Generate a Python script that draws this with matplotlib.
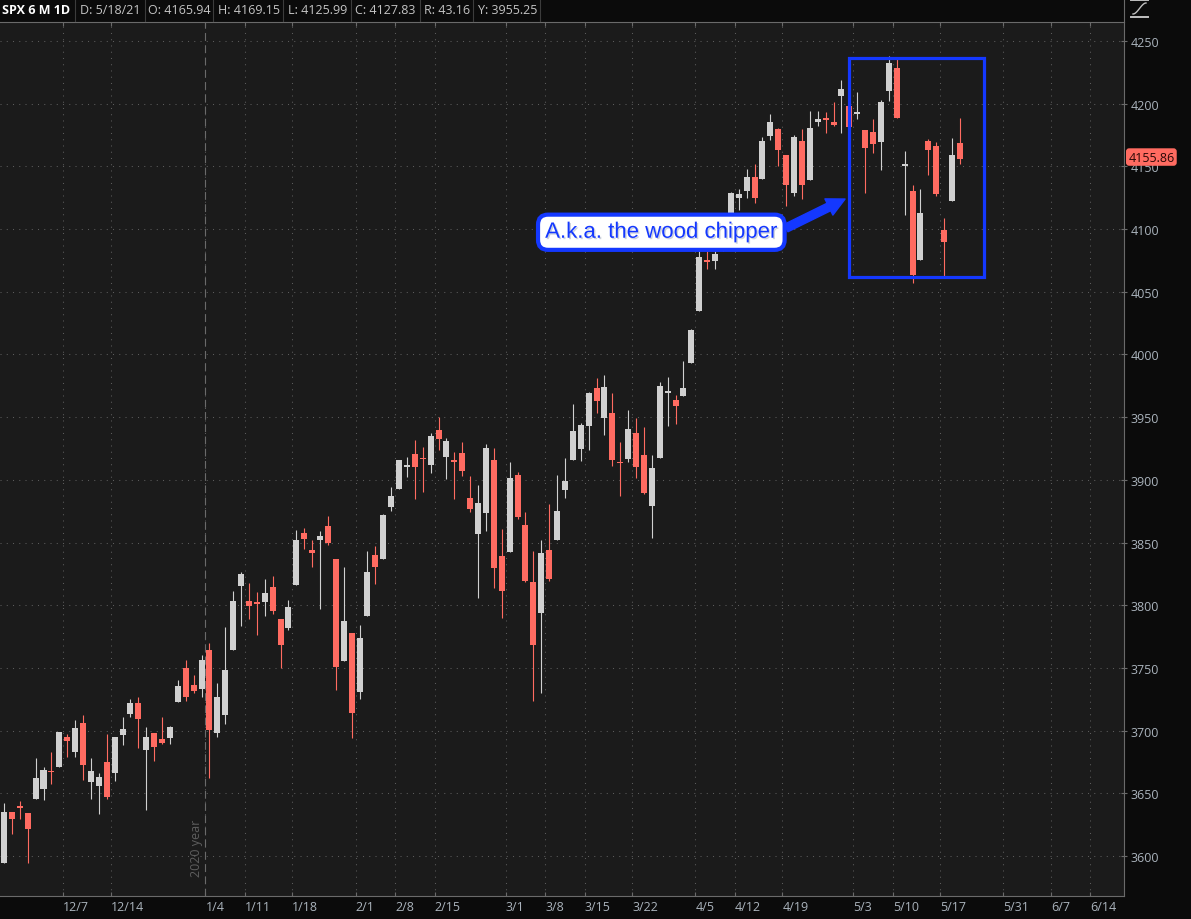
import numpy as np
import pandas as pd
import matplotlib
matplotlib.use('Agg')
import matplotlib.pyplot as plt
from matplotlib import patches, patheffects
from matplotlib.lines import Line2D
import matplotlib.transforms as mtransforms

# trading days on the chart (no bar for holidays, and the chart has no 5/14 bar)
no_bar = ['2020-11-26', '2020-12-25', '2021-01-01', '2021-01-18',
          '2021-02-15', '2021-04-02', '2021-05-14']
days = pd.bdate_range('2020-11-24', '2021-05-21')
days = days[~days.isin(pd.to_datetime(no_bar))]

opens = [3594.52, 3635.50, 3638.55, 3634.18,
         3645.87, 3653.78, 3668.28, 3670.94, 3694.73, 3683.05, 3705.98, 3659.13, 3656.08,
         3675.27, 3666.41, 3696.25, 3713.65, 3722.39, 3684.28, 3698.08, 3693.42, 3694.03,
         3723.03, 3750.01, 3736.19, 3733.27,
         3764.61, 3698.02, 3712.20, 3764.71, 3815.05, 3803.14, 3801.62, 3802.23, 3814.98, 3788.73,
         3781.88, 3816.22, 3857.46, 3844.24, 3851.68, 3862.96, 3836.83, 3755.75, 3778.05,
         3731.17, 3791.84, 3840.27, 3836.66, 3878.30, 3892.59, 3910.49, 3920.78, 3916.40, 3911.65,
         3939.61, 3918.50, 3915.86, 3921.16, 3885.55, 3857.07, 3873.71, 3915.80, 3839.66,
         3842.51, 3903.64, 3863.99, 3818.53, 3793.58, 3844.39, 3851.93, 3891.99, 3915.54, 3924.52,
         3942.96, 3973.59, 3949.57, 3953.50, 3913.14, 3916.48, 3937.60, 3919.93, 3879.34, 3917.12,
         3969.31, 3963.34, 3967.25, 3992.78,
         4034.44, 4075.57, 4074.29, 4089.95, 4096.11, 4124.71, 4130.10, 4141.58, 4139.76, 4174.14,
         4179.80, 4159.18, 4128.42, 4170.46, 4138.78, 4185.03, 4188.25, 4185.14, 4206.14, 4198.10,
         4191.98, 4179.04, 4177.06, 4169.14, 4210.34, 4228.29, 4150.34, 4130.55, 4074.99,
         4169.92, 4165.94, 4099.00, 4121.97, 4168.61]
highs = [3642.31, 3635.50, 3644.31, 3634.18,
         3678.45, 3670.96, 3682.73, 3699.20, 3697.41, 3708.45, 3712.39, 3678.49, 3665.91,
         3697.61, 3695.29, 3711.27, 3725.12, 3726.70, 3702.90, 3698.26, 3711.24, 3703.82,
         3740.51, 3756.12, 3744.63, 3760.20,
         3769.99, 3737.83, 3783.04, 3811.55, 3826.69, 3817.86, 3810.78, 3820.96, 3823.60, 3788.73,
         3804.53, 3859.75, 3861.45, 3852.31, 3859.23, 3870.90, 3836.83, 3830.50, 3778.05,
         3784.32, 3843.09, 3847.51, 3872.42, 3894.56, 3915.77, 3918.35, 3931.50, 3925.99, 3937.23,
         3950.43, 3933.61, 3921.98, 3930.41, 3902.92, 3895.98, 3928.65, 3925.02, 3861.08,
         3914.50, 3906.41, 3874.47, 3843.67, 3851.69, 3881.06, 3903.76, 3917.35, 3960.27, 3944.99,
         3970.08, 3981.04, 3983.87, 3969.62, 3930.12, 3955.31, 3949.13, 3942.08, 3919.54, 3978.19,
         3981.83, 3968.01, 3994.41, 4020.63,
         4083.42, 4086.23, 4083.13, 4098.19, 4129.48, 4131.76, 4148.00, 4151.69, 4173.49, 4191.31,
         4180.81, 4159.18, 4175.02, 4179.57, 4194.17, 4194.19, 4193.35, 4201.53, 4218.78, 4198.10,
         4209.39, 4179.04, 4187.72, 4202.70, 4238.04, 4236.39, 4162.04, 4134.73, 4131.58,
         4171.92, 4169.15, 4109.00, 4172.80, 4188.72]
lows = [3594.52, 3617.76, 3629.33, 3594.39,
        3645.87, 3644.84, 3657.17, 3670.94, 3678.88, 3678.83, 3660.54, 3645.18, 3633.40,
        3645.84, 3659.62, 3688.57, 3710.87, 3685.84, 3636.48, 3676.16, 3689.28, 3689.32,
        3723.03, 3723.31, 3730.21, 3726.88,
        3662.71, 3695.07, 3705.34, 3764.71, 3783.60, 3789.02, 3776.51, 3791.50, 3792.86, 3749.62,
        3780.37, 3816.22, 3845.05, 3830.41, 3797.16, 3847.78, 3732.48, 3755.75, 3694.12,
        3725.62, 3791.84, 3816.68, 3836.66, 3874.93, 3892.59, 3902.64, 3884.94, 3890.39, 3905.78,
        3923.85, 3900.43, 3885.03, 3903.07, 3874.71, 3805.59, 3859.60, 3814.04, 3789.54,
        3842.51, 3868.57, 3818.86, 3723.34, 3730.19, 3819.25, 3851.93, 3885.73, 3915.54, 3915.21,
        3923.54, 3953.44, 3935.74, 3910.86, 3886.75, 3914.16, 3901.57, 3889.07, 3853.50, 3917.12,
        3943.25, 3944.35, 3966.98, 3992.78,
        4034.44, 4068.14, 4068.31, 4082.54, 4095.51, 4114.82, 4124.43, 4120.87, 4139.76, 4170.75,
        4150.47, 4118.38, 4126.35, 4123.69, 4138.78, 4182.36, 4176.22, 4181.78, 4176.81, 4174.85,
        4188.03, 4128.59, 4160.94, 4147.33, 4201.64, 4188.13, 4111.53, 4056.88, 4074.99,
        4142.69, 4125.99, 4062.00, 4121.97, 4151.72]
closes = [3635.41, 3629.65, 3638.35, 3621.63,
          3662.45, 3669.01, 3666.72, 3699.12, 3691.96, 3702.25, 3672.82, 3668.10, 3663.46,
          3647.49, 3694.62, 3701.17, 3722.48, 3709.41, 3694.92, 3687.26, 3690.01, 3703.06,
          3735.36, 3727.04, 3732.04, 3756.07,
          3700.65, 3726.86, 3748.14, 3803.79, 3824.68, 3799.61, 3801.19, 3809.84, 3795.54, 3768.25,
          3798.91, 3851.85, 3853.07, 3841.47, 3855.36, 3849.62, 3750.77, 3787.38, 3714.24,
          3773.86, 3826.31, 3830.17, 3871.74, 3886.83, 3915.59, 3911.23, 3909.88, 3916.38, 3934.83,
          3932.59, 3931.33, 3913.97, 3906.71, 3876.50, 3881.37, 3925.43, 3829.34, 3811.15,
          3901.82, 3870.29, 3819.72, 3768.47, 3841.94, 3821.35, 3875.44, 3898.81, 3939.34, 3943.34,
          3968.94, 3962.71, 3974.12, 3915.46, 3913.10, 3940.59, 3910.52, 3889.14, 3909.52, 3974.54,
          3971.09, 3958.55, 3972.89, 4019.87,
          4077.91, 4073.94, 4079.95, 4097.17, 4128.80, 4127.99, 4141.59, 4124.66, 4170.42, 4185.47,
          4163.26, 4134.94, 4173.42, 4134.98, 4180.17, 4187.62, 4186.72, 4183.18, 4211.47, 4181.17,
          4192.66, 4164.66, 4167.59, 4201.62, 4232.60, 4188.43, 4152.10, 4063.04, 4112.50,
          4163.29, 4127.83, 4090.00, 4159.12, 4155.86]

# week labels on the date axis and the bar slot where the chart draws each one
tick_lab = ['12/7', '12/14', '1/4', '1/11', '1/18', '2/1', '2/8', '2/15', '3/1', '3/8',
            '3/15', '3/22', '4/5', '4/12', '4/19', '5/3', '5/10', '5/17', '5/31', '6/7', '6/14']
tick_slot = [7.5, 13.5, 25.5, 30.5, 36.5, 44.5, 49.5, 54.5, 63.5, 68.5,
             73.5, 79.5, 87.5, 92.5, 98.5, 107.5, 112.5, 118.5, 126.5, 132.5, 137.5]
year_break = '2021-01-04'
last_price = 4155.86
header = ['D: 5/18/21', 'O: 4165.94', 'H: 4169.15', 'L: 4125.99',
          'C: 4127.83', 'R: 43.16', 'Y: 3955.25']
note = 'A.k.a. the wood chipper'

W, H = 1191, 920
up_col = '#d0d0d0'
dn_col = '#ff6b61'
blue = '#1438ff'
lab_col = '#aab3bc'
ui_font = ['Open Sans', 'DejaVu Sans']


def fx(x):
    return x / W


def fy(y):
    return 1 - y / H


fig = plt.figure(figsize=(W / 100, H / 100), dpi=100, facecolor='#0b0b0b')
ax = fig.add_axes([0, fy(897.3), fx(1124.3), (897.3 - 23.4) / H])
ax.set_facecolor('#1b1b1b')

o = np.array(opens)
hi = np.array(highs)
lo = np.array(lows)
c = np.array(closes)
x = np.arange(len(days))
colors = np.where(c >= o, up_col, dn_col)

# wicks then bodies
ax.vlines(x, lo, hi, colors=colors, linewidth=0.8, zorder=3)
body_h = np.maximum(np.abs(c - o), 1.4)
ax.bar(x, body_h, bottom=np.minimum(o, c), width=0.76, color=colors,
       linewidth=0, zorder=4)

ax.set_xlim(-0.506, 141.8)
ax.set_ylim(3568.0, 4264.7)
ax.set_xticks(tick_slot)
ax.set_xticklabels(tick_lab)
ax.set_yticks(np.arange(3600, 4251, 50))
ax.yaxis.tick_right()
ax.tick_params(axis='x', direction='in', length=3, width=0.8, color='#6a6a6a',
               top=True, labelcolor=lab_col, labelsize=9, pad=3)
ax.tick_params(axis='y', direction='inout', length=4, width=0.8, color='#6a6a6a',
               labelcolor=lab_col, labelsize=9, pad=2.5)
for t in ax.get_xticklabels():
    t.set_ha('left')
    t.set_family(ui_font)
for t in ax.get_yticklabels():
    t.set_family(ui_font)

ax.grid(True, color='#5c5c5c', linestyle=(0, (1, 5)), linewidth=0.75, zorder=0)
ax.set_axisbelow(True)
ax.spines['left'].set_visible(False)
for side in ['right', 'bottom', 'top']:
    ax.spines[side].set_color('#6a6a6a')
    ax.spines[side].set_linewidth(0.8)

# year break, on the edge before the first bar of the new year
yb = days.searchsorted(pd.Timestamp(year_break)) - 0.5
ax.axvline(yb, color='#6a6a6a', linestyle=(0, (7, 4)), linewidth=0.8, zorder=1)
ax.text(yb - 0.3, 3584.0, '2020 year', rotation=90, ha='right', va='bottom',
        color='#5e5e5e', fontsize=9, family=ui_font, zorder=2)

# annotation box around the last two weeks
rect = patches.Rectangle((106.9, 4062.0), 124.05 - 106.9, 4236.3 - 4062.0,
                         fill=False, edgecolor=blue, linewidth=2.3, zorder=6)
ax.add_patch(rect)

ann = ax.annotate(note, xy=(106.46, 4123.9), xytext=(83.2, 4097.4),
                  ha='center', va='center', fontsize=16, family='Liberation Sans',
                  color=blue, zorder=10,
                  bbox=dict(boxstyle='round,pad=0.32,rounding_size=0.45',
                            fc='white', ec=blue, lw=3),
                  arrowprops=dict(arrowstyle='simple,head_length=1.3,head_width=1.3,tail_width=0.6',
                                  fc=blue, ec=blue, relpos=(1, 0.5),
                                  shrinkA=0, shrinkB=0, mutation_scale=10))
ann.set_path_effects([patheffects.withSimplePatchShadow(offset=(1, -1),
                                                         shadow_rgbFace='#7080a0',
                                                         alpha=0.35)])

# last price tag on the price axis (covers the 4150 label, as on the chart)
trans = mtransforms.blended_transform_factory(ax.transAxes, ax.transData)
ax.text(1.0035, last_price + 1.5, f'{last_price:.2f}', transform=trans, ha='left',
        va='center', fontsize=9, family=ui_font, color='#2a0806', clip_on=False, zorder=20,
        bbox=dict(boxstyle='round,pad=0.18,rounding_size=0.25', fc=dn_col, ec='none'))

# header strip
fig.text(fx(2), fy(11), 'SPX 6 M 1D', ha='left', va='center', fontsize=9,
         fontweight='bold', color='white', family=ui_font)
head_x = [79.6, 148.5, 218, 287.8, 355, 424, 477.6]
for hx, s in zip(head_x, header):
    fig.text(fx(hx), fy(11), s, ha='left', va='center', fontsize=9,
             color='#c4c4c4', family=ui_font)
for sx in [75.4, 144.7, 213, 283, 351, 420, 473.4, 539.6]:
    fig.add_artist(Line2D([fx(sx), fx(sx)], [fy(0), fy(21.5)], color='#3c3c3c',
                          linewidth=0.8, transform=fig.transFigure))
fig.add_artist(Line2D([fx(1124.3), fx(1124.3)], [fy(0), fy(23.4)], color='#6a6a6a',
                      linewidth=0.8, transform=fig.transFigure))

# small study icon top right
for iy in [1.0, 18.3]:
    fig.add_artist(Line2D([fx(1131), fx(1148)], [fy(iy), fy(iy)], color='#c0c0c0',
                          linewidth=1.4, transform=fig.transFigure))
s = np.linspace(0, 1, 30)
curve_x = 1133 + 13 * s
curve_y = 15 - 11 * (3 * s ** 2 - 2 * s ** 3)
fig.add_artist(Line2D(fx(curve_x), fy(curve_y), color='#c0c0c0', linewidth=1.0,
                      transform=fig.transFigure))

fig.savefig('out.png', dpi=100, facecolor=fig.get_facecolor())
